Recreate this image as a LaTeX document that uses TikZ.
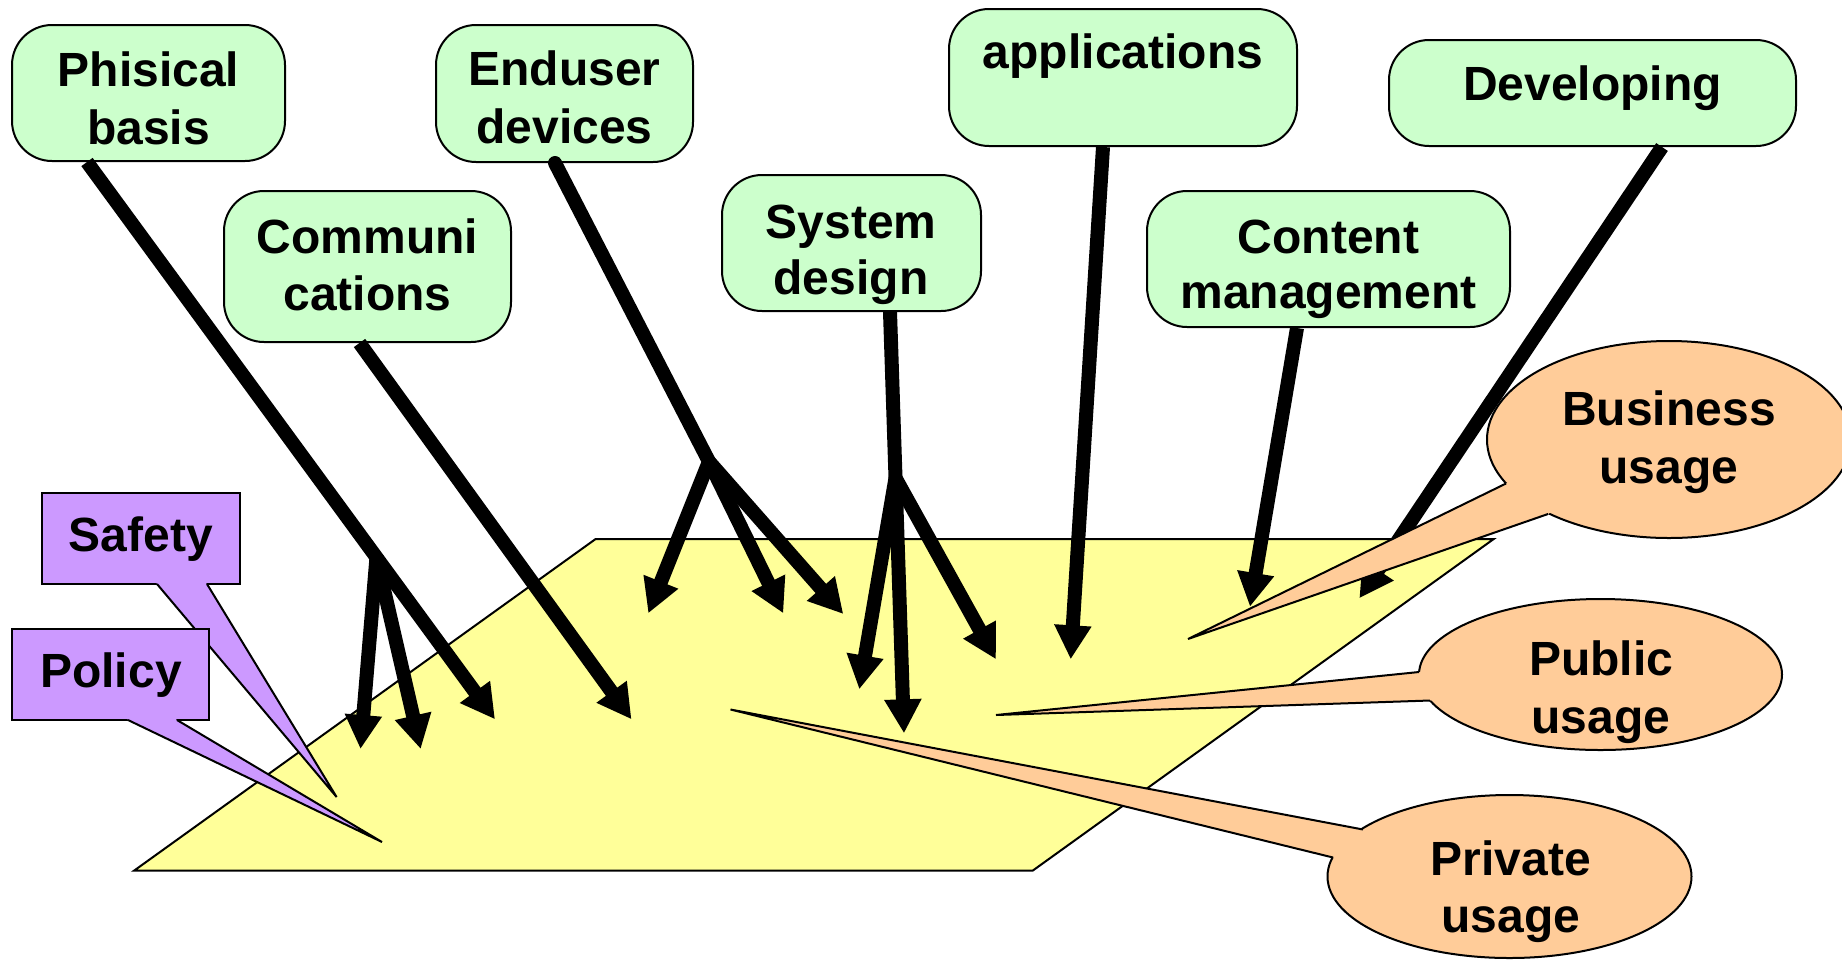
\documentclass[tikz,border=0pt]{standalone}
\usepackage{fontspec}
\setmainfont{Liberation Sans}
\usetikzlibrary{arrows.meta,calc,shapes.geometric}
\definecolor{boxgreen}{HTML}{CCFFCC}
\definecolor{plane}{HTML}{FFFF99}
\definecolor{lilac}{HTML}{CC99FF}
\definecolor{peach}{HTML}{FFCC99}
\begin{document}
\begin{tikzpicture}[x=0.5pt,y=-0.5pt,
  gbox/.style={rectangle,draw=black,line width=1pt,fill=boxgreen,rounded corners=20pt,inner sep=0pt},
  pbox/.style={draw=black,line width=1pt,fill=lilac,inner sep=0pt},
  obub/.style={ellipse,draw=black,line width=1pt,fill=peach,inner sep=0pt},
  lbl/.style={font=\fontsize{24}{29}\selectfont\bfseries,anchor=base,inner sep=0pt},
  arr/.style={line width=7pt,-{Triangle[length=17pt,width=17.5pt]}},
  shaft/.style={line width=7pt,line cap=round},
  tailedge/.style={draw=black,line width=1pt,line join=miter}]
\useasboundingbox (0,0) rectangle (1842,960);
\clip (0,0) rectangle (1842,960);
\fill[white] (0,0) rectangle (1842,960);

% plane
\draw[fill=plane,line width=1pt] (595.6,539) -- (1493.7,539) -- (1032.6,870.7) -- (134,870.7) -- cycle;

% green boxes
\node[gbox,minimum width=136.5pt,minimum height=68pt] (phis) at (148.5,93) {};
\node[gbox,minimum width=128.5pt,minimum height=68.5pt] (endu) at (564.5,93.5) {};
\node[gbox,minimum width=143.5pt,minimum height=75.5pt] (comm) at (367.5,266.5) {};
\node[gbox,minimum width=129.5pt,minimum height=68pt] (sysd) at (851.5,243) {};
\node[gbox,minimum width=174pt,minimum height=68.5pt] (appl) at (1123,77.5) {};
\node[gbox,minimum width=203.5pt,minimum height=53pt] (deve) at (1592.5,93) {};
\node[gbox,minimum width=181.5pt,minimum height=68pt] (cont) at (1328.5,259) {};

\node[lbl] (phisA) at (148.5,86) {Phisical};
\node[lbl] (phisB) at (148.5,144) {basis};
\node[lbl] (enduA) at (564.5,85) {Enduser};
\node[lbl] (enduB) at (564.5,143) {devices};
\node[lbl] (commA) at (367.5,253) {Communi};
\node[lbl] (commB) at (367.5,310) {cations};
\node[lbl] (sysdA) at (851,238) {System};
\node[lbl] (sysdB) at (851,294) {design};
\node[lbl] (applA) at (1123,68) {applications};
\node[lbl] (deveA) at (1592.5,100) {Developing};
\node[lbl] (contA) at (1328.5,253) {Content};
\node[lbl] (contB) at (1328.5,308) {management};

% branch points
\coordinate (bPhis) at (376.5,557);
\coordinate (bEndu) at (709,461.5);
\coordinate (bSysd) at (895.5,478);

% arrow tips (free ends)
\coordinate (tPhis1) at (495,719.3);
\coordinate (tPhis2) at (360.5,749);
\coordinate (tPhis3) at (420.7,749);
\coordinate (tComm) at (631.5,719.3);
\coordinate (tEndu1) at (648.3,613.3);
\coordinate (tEndu2) at (783.3,613.3);
\coordinate (tEndu3) at (843.3,614);
\coordinate (tSysd1) at (904,733.3);
\coordinate (tSysd2) at (859.3,689.3);
\coordinate (tSysd3) at (996,659.3);
\coordinate (tAppl) at (1070.7,659.3);
\coordinate (tCont) at (1250,606.7);
\coordinate (tDeve) at (1359.3,598.3);

% arrows
\draw[arr] ($(phis.south)+(-61.5,0)$) -- (tPhis1);
\draw[arr] (bPhis) -- (tPhis2);
\draw[arr] (bPhis) -- (tPhis3);
\draw[arr] ($(comm.south)+(-8,0)$) -- (tComm);
\draw[shaft] ($(endu.south)+(-9.5,0)$) -- (bEndu);
\draw[arr] (bEndu) -- (tEndu1);
\draw[arr] (bEndu) -- (tEndu2);
\draw[arr] (bEndu) -- (tEndu3);
\draw[arr] ($(sysd.south)+(38.5,0)$) -- (tSysd1);
\draw[arr] (bSysd) -- (tSysd2);
\draw[arr] (bSysd) -- (tSysd3);
\draw[arr] ($(appl.south)+(-20,0)$) -- (tAppl);
\draw[arr] ($(cont.south)+(-31.5,0)$) -- (tCont);
\draw[arr] ($(deve.south)+(69.5,0)$) -- (tDeve);

% Safety callout
\node[pbox,minimum width=99pt,minimum height=45.5pt] (safe) at (141,538.5) {};
\fill[lilac] (336.6,797) -- (157,584) -- (safe.center) -- (207,584) -- cycle;
\draw[tailedge] (157,584) -- (336.6,797) -- (207,584);
\node[lbl] (safeA) at (141,551) {Safety};

% Policy callout
\node[pbox,minimum width=98.5pt,minimum height=45.5pt] (poli) at (110.5,674.5) {};
\fill[lilac] (382,842) -- (128,720) -- (poli.center) -- (177,720) -- cycle;
\draw[tailedge] (128,720) -- (382,842) -- (177,720);
\node[lbl] (poliA) at (111,687) {Policy};

% Business usage
\node[obub,minimum width=182pt,minimum height=98.5pt] (busi) at (1669,439.5) {};
\fill[peach] (1188,639) -- (1506,483.5) -- (busi.center) -- (1548,514) -- cycle;
\draw[tailedge] (1506,483.5) -- (1188,639) -- (1548,514);
\node[lbl] (busiA) at (1669,425) {Business};
\node[lbl] (busiB) at (1669,483) {usage};

% Public usage
\node[obub,minimum width=181.5pt,minimum height=75.5pt] (publ) at (1600.5,674.5) {};
\fill[peach] (996,715) -- (1419,672) -- (publ.center) -- (1430,700.5) -- cycle;
\draw[tailedge] (1419,672) -- (996,715) -- (1430,700.5);
\node[lbl] (publA) at (1601,675.5) {Public};
\node[lbl] (publB) at (1601,733) {usage};

% Private usage
\node[obub,minimum width=182pt,minimum height=81.5pt] (priv) at (1509.5,876.5) {};
\fill[peach] (730.5,709.5) -- (1363,829.5) -- (priv.center) -- (1333,857.5) -- cycle;
\draw[tailedge] (1363,829.5) -- (730.5,709.5) -- (1333,857.5);
\node[lbl] (privA) at (1511,875) {Private};
\node[lbl] (privB) at (1511,932) {usage};
\end{tikzpicture}
\end{document}
